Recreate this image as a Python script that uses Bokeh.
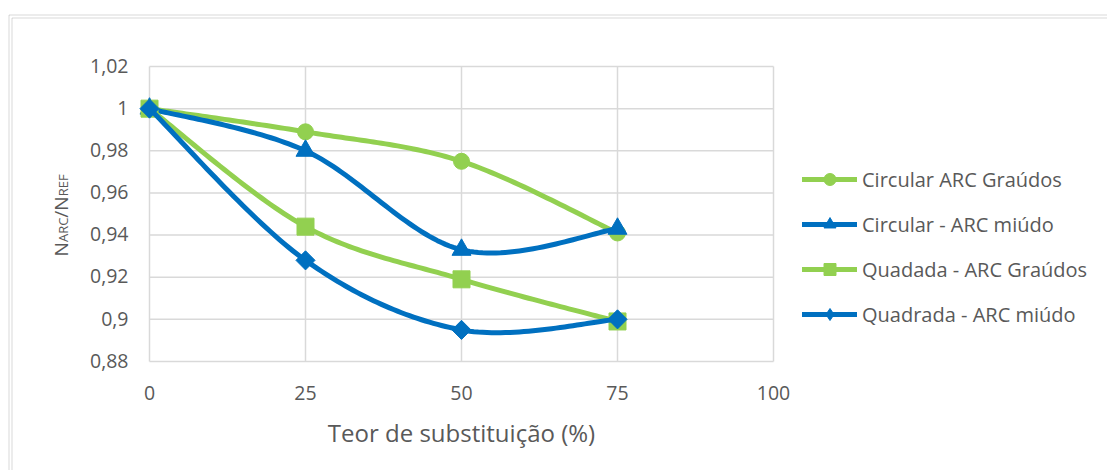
import numpy as np
from bokeh.plotting import figure
from bokeh.models import Legend, LegendItem, BoxAnnotation, ColumnDataSource, Segment
from bokeh.core.properties import value
from bokeh.embed import file_html
from bokeh.resources import INLINE

# --- data -------------------------------------------------------------
teor = [0, 25, 50, 75]
circ_graudos = [1.000, 0.989, 0.975, 0.941]
circ_miudo = [1.000, 0.980, 0.933, 0.943]
quad_graudos = [1.000, 0.944, 0.919, 0.899]
quad_miudo = [1.000, 0.928, 0.895, 0.900]

series_names = ["Circular ARC Graúdos", "Circular - ARC miúdo",
                "Quadada - ARC Graúdos", "Quadrada - ARC miúdo"]

x_ticks = [0, 25, 50, 75, 100]
x_tick_labels = ["0", "25", "50", "75", "100"]
y_ticks = [0.88, 0.90, 0.92, 0.94, 0.96, 0.98, 1.00, 1.02]
y_tick_labels = ["0,88", "0,9", "0,92", "0,94", "0,96", "0,98", "1", "1,02"]
x_title = "Teor de substituição (%)"

GREEN = "#92D050"
BLUE = "#0070C0"
GRID = "#D9D9D9"
TEXT = "#595959"
FONT = "Open Sans"

W, H = 1107, 470
# plot area placement (pixels) and the value span it shows
PX_L, PX_R, PX_T, PX_B = 149, 773, 66, 361
X0, X1, Y0, Y1 = 0, 100, 0.88, 1.02
kx = (X1 - X0) / (PX_R - PX_L)        # data units per pixel, horizontal
ky = (Y1 - Y0) / (PX_B - PX_T)        # data units per pixel, vertical
BASE = 0.4                            # svg text sits ~0.4em low on "alphabetic"


def dx(px):
    return X0 + (px - PX_L) * kx


def dy(py):
    return Y0 + (PX_B - py) * ky


def smooth(xs, ys, n=40):
    """Cubic Bezier curve through the points (Catmull-Rom style, 1/6 tension)."""
    px = [xs[0]] + list(xs) + [xs[-1]]
    py = [ys[0]] + list(ys) + [ys[-1]]
    out_x, out_y = [], []
    t = np.linspace(0, 1, n)
    for i in range(1, len(px) - 2):
        p0 = np.array([px[i], py[i]])
        p3 = np.array([px[i + 1], py[i + 1]])
        c1 = p0 + (np.array([px[i + 1], py[i + 1]]) - np.array([px[i - 1], py[i - 1]])) / 6
        c2 = p3 - (np.array([px[i + 2], py[i + 2]]) - np.array([px[i], py[i]])) / 6
        b = ((1 - t) ** 3)[:, None] * p0 + (3 * (1 - t) ** 2 * t)[:, None] * c1 \
            + (3 * (1 - t) * t ** 2)[:, None] * c2 + (t ** 3)[:, None] * p3
        out_x.extend(b[:, 0])
        out_y.extend(b[:, 1])
    return out_x, out_y


p = figure(width=W, height=H, output_backend="svg", toolbar_location=None,
           x_range=(dx(0), dx(W)), y_range=(dy(H), dy(0)),
           x_axis_type=None, y_axis_type=None,
           min_border=0, min_border_left=0, min_border_right=0,
           min_border_top=0, min_border_bottom=0)
p.outline_line_color = None
p.background_fill_color = "white"
p.border_fill_color = "white"

# gridlines over the value span only
gx = ColumnDataSource(dict(x0=x_ticks, x1=x_ticks,
                           y0=[Y0] * len(x_ticks), y1=[Y1] * len(x_ticks)))
gy = ColumnDataSource(dict(x0=[X0] * len(y_ticks), x1=[X1] * len(y_ticks),
                           y0=y_ticks, y1=y_ticks))
for src in (gx, gy):
    p.add_glyph(src, Segment(x0="x0", y0="y0", x1="x1", y1="y1",
                             line_color=GRID, line_width=1.5))

# tick labels
TICK = 19.5
p.text(x=x_ticks, y=[dy(400 - BASE * TICK)] * len(x_ticks), text=x_tick_labels,
       text_align="center", text_baseline="alphabetic",
       text_font=value(FONT), text_font_size=f"{TICK}px", text_color=TEXT)
p.text(x=[dx(128)] * len(y_ticks), y=[v - (7 - BASE * TICK) * ky for v in y_ticks],
       text=y_tick_labels, text_align="right", text_baseline="alphabetic",
       text_font=value(FONT), text_font_size=f"{TICK}px", text_color=TEXT)

# horizontal axis title
TITLE = 24
p.text(x=[(X0 + X1) / 2], y=[dy(442 - BASE * TITLE)], text=[x_title],
       text_align="center", text_baseline="alphabetic",
       text_font=value(FONT), text_font_size=f"{TITLE}px", text_color=TEXT)

# N_ARC / N_REF set as rotated pieces, small caps for the indices
adv = {"N": 0.76, "A": 0.633, "R": 0.62, "C": 0.613, "/": 0.37,
       "E": 0.543, "F": 0.504}
BIG, SMALL = 19, 13
pieces = [("N", BIG), ("ARC", SMALL), ("/", BIG), ("N", BIG), ("REF", SMALL)]
lengths = [sum(adv[c] for c in s) * sz for s, sz in pieces]
pos = 215 + sum(lengths) / 2          # bottom end of the rotated title
for (txt, sz), ln in zip(pieces, lengths):
    p.text(x=[dx(68 - BASE * sz)], y=[dy(pos)], text=[txt], angle=np.pi / 2,
           text_align="left", text_baseline="alphabetic",
           text_font=value(FONT), text_font_size=f"{sz}px", text_color=TEXT)
    pos -= ln

styles = [
    (circ_graudos, GREEN, "circle", 16, 0, "circle"),
    (circ_miudo, BLUE, "triangle", 19, 0, "triangle"),
    (quad_graudos, GREEN, "square", 17, 0, "square"),
    (quad_miudo, BLUE, "square", 13.5, np.pi / 4, "diamond"),
]
items = []
for name, (vals, col, mk, sz, ang, key_mk) in zip(series_names, styles):
    sx, sy = smooth(teor, vals)
    ln = p.line(sx, sy, line_color=col, line_width=5, line_cap="round",
                line_join="round")
    sc = p.scatter(teor, vals, marker=mk, size=sz, angle=ang,
                   fill_color=col, line_color=col)
    if key_mk != mk:
        # legend swatch only: same style, unrotated diamond marker
        sc = p.scatter([np.nan], [np.nan], marker=key_mk, size=sz,
                       fill_color=col, line_color=col)
    items.append(LegendItem(label=name, renderers=[ln, sc]))

legend = Legend(items=items, location=(802, 141), orientation="vertical",
                glyph_width=55, glyph_height=30, label_height=30, spacing=15,
                label_standoff=5, padding=0, margin=0,
                label_text_font=FONT, label_text_font_size="20px",
                label_text_color=TEXT, border_line_color=None,
                background_fill_alpha=0)
p.add_layout(legend)

# chart frame: double grey rule
for off in (8.5, 11.5):
    p.add_layout(BoxAnnotation(left=off, top=off + 6, right=W + 50, bottom=H + 50,
                               left_units="canvas", right_units="canvas",
                               top_units="canvas", bottom_units="canvas",
                               fill_alpha=0, line_color="#7F7F7F", line_width=1))

open("out.html", "w").write(file_html(p, INLINE))
